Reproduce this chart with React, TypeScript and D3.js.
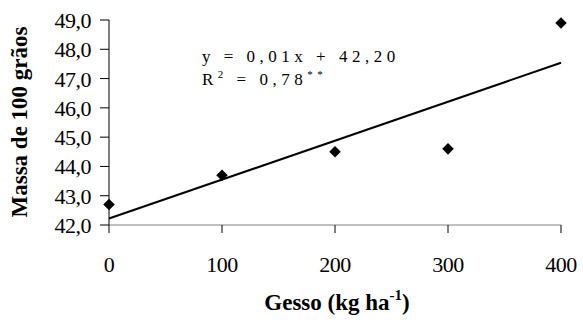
import React, { useEffect, useRef } from 'react';
import * as d3 from 'd3';

const doses = [0, 100, 200, 300, 400];
const massa = [42.7, 43.7, 44.5, 44.6, 48.9];
const yTicks = [42, 43, 44, 45, 46, 47, 48, 49];
const xTicks = [0, 100, 200, 300, 400];
const equation = 'y = 0,01x + 42,20';

const W = 583;
const H = 331;
const FONT = '"Liberation Serif", "Times New Roman", serif';

const App: React.FC = () => {
  const svgRef = useRef<SVGSVGElement>(null);

  useEffect(() => {
    if (!svgRef.current) return;
    const svg = d3.select(svgRef.current);
    svg.selectAll('*').remove();

    const x = d3.scaleLinear().domain([0, 400]).range([109, 561]);
    const y = d3.scaleLinear().domain([42, 49]).range([225, 20]);

    // regressão linear
    const mx = d3.mean(doses) as number;
    const my = d3.mean(massa) as number;
    const sxy = d3.sum(doses, (d, i) => (d - mx) * (massa[i] - my));
    const sxx = d3.sum(doses, d => (d - mx) ** 2);
    const b = sxy / sxx;
    const a = my - b * mx;

    // eixo x
    svg.append('line')
      .attr('x1', x(0)).attr('x2', x(400))
      .attr('y1', y(42)).attr('y2', y(42))
      .attr('stroke', '#808080').attr('stroke-width', 1);
    svg.selectAll('.xt')
      .data(xTicks)
      .enter()
      .append('line')
      .attr('x1', d => x(d)).attr('x2', d => x(d))
      .attr('y1', y(42)).attr('y2', y(42) + 8)
      .attr('stroke', '#000');
    svg.selectAll('.xl')
      .data(xTicks)
      .enter()
      .append('text')
      .attr('x', d => x(d))
      .attr('y', 272)
      .attr('text-anchor', 'middle')
      .attr('font-family', FONT)
      .attr('font-size', 22)
      .attr('letter-spacing', -0.5)
      .text(d => d);

    // eixo y
    svg.append('line')
      .attr('x1', x(0)).attr('x2', x(0))
      .attr('y1', y(49)).attr('y2', y(42))
      .attr('stroke', '#000');
    svg.selectAll('.yt')
      .data(yTicks)
      .enter()
      .append('line')
      .attr('x1', x(0) - 9).attr('x2', x(0))
      .attr('y1', d => y(d)).attr('y2', d => y(d))
      .attr('stroke', '#000');
    svg.selectAll('.yl')
      .data(yTicks)
      .enter()
      .append('text')
      .attr('x', 91)
      .attr('y', d => y(d) + 8)
      .attr('text-anchor', 'end')
      .attr('font-family', FONT)
      .attr('font-size', 22)
      .attr('letter-spacing', -0.5)
      .text(d => d.toFixed(1).replace('.', ','));

    // títulos
    svg.append('text')
      .attr('transform', `translate(27, 122) rotate(-90)`)
      .attr('text-anchor', 'middle')
      .attr('font-family', FONT)
      .attr('font-size', 23)
      .attr('font-weight', 'bold')
      .text('Massa de 100 grãos');

    const xt = svg.append('text')
      .attr('x', 337)
      .attr('y', 310)
      .attr('text-anchor', 'middle')
      .attr('font-family', FONT)
      .attr('font-size', 23)
      .attr('font-weight', 'bold');
    xt.append('tspan').text('Gesso (kg ha');
    xt.append('tspan').attr('dy', -10).attr('font-size', 15).text('-1');
    xt.append('tspan').attr('dy', 10).text(')');

    // linha de tendência
    svg.append('line')
      .attr('x1', x(0)).attr('y1', y(a))
      .attr('x2', x(400)).attr('y2', y(a + b * 400))
      .attr('stroke', '#000')
      .attr('stroke-width', 2);

    // pontos
    const diamond = d3.symbol().type(d3.symbolDiamond2).size(85);
    svg.selectAll('.pt')
      .data(doses)
      .enter()
      .append('path')
      .attr('d', diamond)
      .attr('transform', (d, i) => `translate(${x(d)},${y(massa[i])})`)
      .attr('fill', '#000');

    // equação
    svg.append('text')
      .attr('x', 202)
      .attr('y', 62)
      .attr('font-family', FONT)
      .attr('font-size', 17)
      .attr('letter-spacing', 4.5)
      .text(equation);
    const r2 = svg.append('text')
      .attr('x', 202)
      .attr('y', 85)
      .attr('font-family', FONT)
      .attr('font-size', 17)
      .attr('letter-spacing', 4.5);
    r2.append('tspan').text('R');
    r2.append('tspan').attr('dy', -7).attr('font-size', 11).text('2');
    r2.append('tspan').attr('dy', 7).text(' = 0,78');
    r2.append('tspan').attr('dy', -7).attr('font-size', 11).text('**');
  }, []);

  return <svg ref={svgRef} width={W} height={H} style={{ position: 'absolute', left: 0, top: 0 }} />;
};

export default App;
